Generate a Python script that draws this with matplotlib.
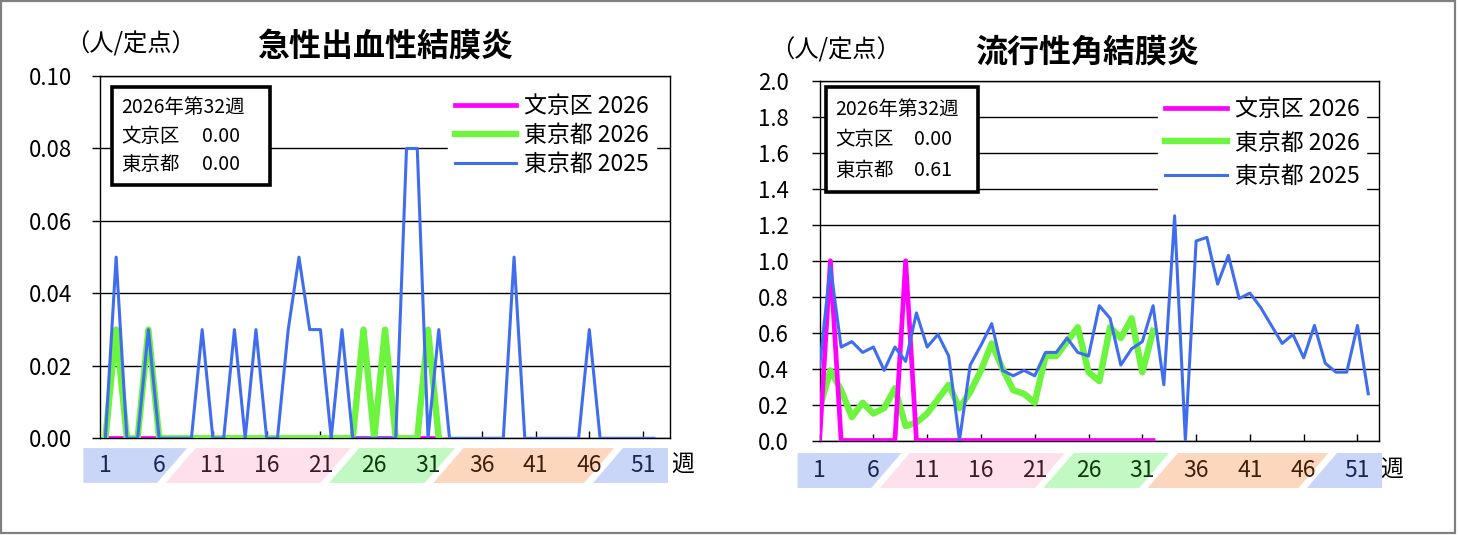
import numpy as np
import matplotlib
matplotlib.use("Agg")
import matplotlib.pyplot as plt
from matplotlib.patches import Polygon, Rectangle
from matplotlib.transforms import blended_transform_factory

plt.rcParams['font.family'] = ['Noto Sans CJK JP', 'DejaVu Sans']

# ---- data -------------------------------------------------------------
weeks_2025 = list(range(1, 53))
weeks_2026 = list(range(1, 33))

# 急性出血性結膜炎 (人/定点)
ahc_bunkyo_2026 = [0, 0, 0, 0, 0, 0, 0, 0, 0, 0,
                   0, 0, 0, 0, 0, 0, 0, 0, 0, 0,
                   0, 0, 0, 0, 0, 0, 0, 0, 0, 0,
                   0, 0]
ahc_tokyo_2026 = [0, .03, 0, 0, .03, 0, 0, 0, 0, 0,
                  0, 0, 0, 0, 0, 0, 0, 0, 0, 0,
                  0, 0, 0, 0, .03, 0, .03, 0, 0, 0,
                  .03, 0]
ahc_tokyo_2025 = [0, .05, 0, 0, .03, 0, 0, 0, 0, .03,
                  0, 0, .03, 0, .03, 0, 0, .03, .05, .03,
                  .03, 0, .03, 0, 0, 0, 0, 0, .08, .08,
                  0, .03, 0, 0, 0, 0, 0, 0, .05, 0,
                  0, 0, 0, 0, 0, .03, 0, 0, 0, 0,
                  0, 0]

# 流行性角結膜炎 (人/定点)
ekc_bunkyo_2026 = [0, 1.0, 0, 0, 0, 0, 0, 0, 1.0, 0,
                   0, 0, 0, 0, 0, 0, 0, 0, 0, 0,
                   0, 0, 0, 0, 0, 0, 0, 0, 0, 0,
                   0, 0]
ekc_tokyo_2026 = [.18, .39, .28, .13, .21, .15, .18, .29, .08, .10,
                  .15, .23, .31, .18, .27, .39, .54, .40, .28, .26,
                  .21, .47, .47, .55, .63, .38, .33, .63, .57, .68,
                  .38, .61]
ekc_tokyo_2025 = [.41, .97, .52, .55, .49, .52, .39, .52, .44, .71,
                  .52, .59, .47, 0, .42, .53, .65, .39, .36, .39,
                  .36, .49, .49, .57, .49, .47, .75, .68, .42, .51,
                  .55, .75, .31, 1.25, 0, 1.11, 1.13, .87, 1.03, .79,
                  .82, .74, .64, .54, .59, .46, .64, .43, .38, .38,
                  .64, .26]

series_labels = ['文京区 2026', '東京都 2026', '東京都 2025']
box_title = '2026年第32週'
box_names = ['文京区', '東京都']
ahc_box_values = ['0.00', '0.00']
ekc_box_values = ['0.00', '0.61']

week_labels = ['1', '6', '11', '16', '21', '26', '31', '36', '41', '46', '51']
label_colors = ['#1c2455', '#1c2455', '#3d1a26', '#3d1a26', '#3d1a26',
                '#0c3a0c', '#0c3a0c', '#40200c', '#40200c', '#40200c', '#1c2455']

# season bands under the x axis (week boundaries at the bottom edge)
season_edges = [-1.05, 6.2, 21.4, 31.1, 45.9, 53.3]
season_colors = ['#c9d6f8', '#fde0eb', '#c2f8c2', '#fcd6bd', '#c9d6f8']

MAGENTA = '#ff00ff'
GREEN = '#6cf43f'
BLUE = '#3f6ded'


def draw_bands(ax, y0, y1):
    trans = blended_transform_factory(ax.transData, ax.transAxes)
    slant, gap = 2.8, 0.8
    n = len(season_colors)
    for i in range(n):
        lo = season_edges[i] + (gap / 2 if i > 0 else 0)
        hi = season_edges[i + 1] - (gap / 2 if i < n - 1 else 0)
        lo_top = lo + (slant if i > 0 else 0)
        hi_top = hi + (slant if i < n - 1 else 0)
        poly = Polygon([(lo, y0), (hi, y0), (hi_top, y1), (lo_top, y1)],
                       closed=True, transform=trans, facecolor=season_colors[i],
                       edgecolor='none', clip_on=False, zorder=0)
        ax.add_patch(poly)
    ymid = (y0 + y1) / 2
    for lab, col in zip(week_labels, label_colors):
        ax.text(int(lab), ymid, lab, transform=trans, ha='center', va='center',
                fontsize=16.5, color=col, clip_on=False)
    ax.text(1.022, ymid, '週', transform=ax.transAxes, ha='center', va='center',
            fontsize=16.5, color='black')


def panel(ax, title, bunkyo26, tokyo26, tokyo25, ytop, ystep, yfmt, xlim,
          bunkyo_z, box, box_values, leg_anchor, leg_spacing, title_x, unit_x,
          band, ypad):
    ax.plot(weeks_2026, bunkyo26, color=MAGENTA, lw=3.4, zorder=bunkyo_z,
            label=series_labels[0])
    ax.plot(weeks_2026, tokyo26, color=GREEN, lw=4.6, zorder=3,
            label=series_labels[1])
    ax.plot(weeks_2025, tokyo25, color=BLUE, lw=2.2, zorder=5,
            label=series_labels[2])

    ax.set_xlim(*xlim)
    ax.set_ylim(0, ytop)
    ax.set_yticks(np.round(np.arange(0, ytop + ystep / 2, ystep), 3))
    ax.yaxis.set_major_formatter(plt.FormatStrFormatter(yfmt))
    ax.set_xticks([int(w) for w in week_labels])
    ax.tick_params(axis='x', direction='in', length=5, width=1, labelbottom=False)
    ax.tick_params(axis='y', direction='out', length=6, width=1, labelsize=16,
                   pad=ypad)
    ax.grid(axis='y', color='black', lw=1.0)
    ax.set_axisbelow(True)
    for sp in ax.spines.values():
        sp.set_color('black')
        sp.set_linewidth(1.0)

    # info box
    bx, by, bw, bh = box
    ax.add_patch(Rectangle((bx, by), bw, bh, transform=ax.transAxes,
                           facecolor='white', edgecolor='black', lw=2.6, zorder=6))
    tx = bx + 0.017
    vx = bx + 0.158
    rows = [by + bh * 0.79, by + bh * 0.50, by + bh * 0.21]
    ax.text(tx, rows[0], box_title, transform=ax.transAxes, fontsize=14,
            va='center', ha='left', zorder=7)
    for r, name, val in zip(rows[1:], box_names, box_values):
        ax.text(tx, r, name, transform=ax.transAxes, fontsize=14,
                va='center', ha='left', zorder=7)
        ax.text(vx, r, val, transform=ax.transAxes, fontsize=14,
                va='center', ha='left', zorder=7)

    leg = ax.legend(loc='upper left', bbox_to_anchor=leg_anchor, frameon=True,
                    fancybox=False, edgecolor='white', facecolor='white',
                    framealpha=1, fontsize=16.5, handlelength=2.7,
                    handletextpad=0.35, labelspacing=leg_spacing, borderpad=0.3,
                    borderaxespad=0)
    leg.set_zorder(7)

    ax.text(title_x, 1.08, title, transform=ax.transAxes, ha='center',
            va='center', fontsize=23, fontweight='bold')
    ax.text(unit_x, 1.086, '（人/定点）', transform=ax.transAxes, ha='center',
            va='center', fontsize=17.5)
    draw_bands(ax, band[0], band[1])


fig = plt.figure(figsize=(14.58, 5.35), dpi=100)
fig.patch.set_facecolor('white')

ax1 = fig.add_axes([100 / 1458, 1 - 438.3 / 535, 570 / 1458, 362.3 / 535])
ax2 = fig.add_axes([819.6 / 1458, 1 - 440.5 / 535, 559.4 / 1458, 359.5 / 535])

panel(ax1, '急性出血性結膜炎', ahc_bunkyo_2026, ahc_tokyo_2026, ahc_tokyo_2025,
      0.10, 0.02, '%.2f', (0.5, 53.5), 2,
      (0.021, 0.699, 0.277, 0.27), ahc_box_values, (0.61, 0.967), 0.26,
      0.5, 0.053, (-0.123, -0.027), 14)
panel(ax2, '流行性角結膜炎', ekc_bunkyo_2026, ekc_tokyo_2026, ekc_tokyo_2025,
      2.0, 0.2, '%.1f', (1.0, 53.0), 4,
      (0.0114, 0.691, 0.272, 0.292), ekc_box_values, (0.605, 0.972), 0.46,
      0.478, 0.029, (-0.132, -0.035), 16)

fig.add_artist(Rectangle((1 / 1458, 2 / 535), 1454 / 1458, 532 / 535,
                         transform=fig.transFigure, fill=False,
                         edgecolor='#808080', lw=1.6))

fig.savefig('out.png', dpi=100)
